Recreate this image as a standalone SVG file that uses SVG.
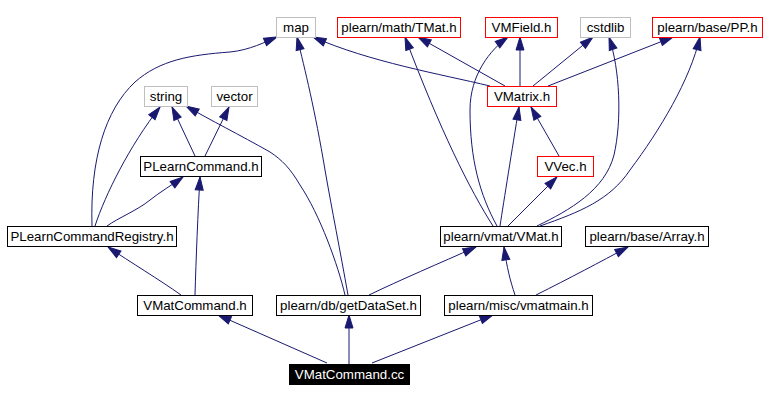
<svg xmlns="http://www.w3.org/2000/svg" width="766" height="401" viewBox="0 0 766 401">
<style>
.n rect{fill:#fff;stroke:#000;stroke-width:1}
.n.g rect{stroke:#bfbfbf}
.n.r rect{stroke:#ff0000}
.n.s rect{fill:#000}
.n text{font-family:"Liberation Sans",Arial,sans-serif;font-size:13.3px;text-anchor:middle;fill:#000}
.n.s text{fill:#fff}
#edges path{fill:none;stroke:#191970;stroke-width:1;marker-end:url(#a)}
</style>
<defs>
<marker id="a" markerWidth="14" markerHeight="9" refX="13" refY="4" orient="auto" markerUnits="userSpaceOnUse" overflow="visible">
<path d="M0,0 L13,4 L0,8 z" fill="#191970" stroke="#191970" stroke-width="1"/>
</marker>
</defs>
<rect width="766" height="401" fill="#fff"/>
<g id="edges">
<path d="M327,363 L218,315"/>
<path d="M349,364 L349,315"/>
<path d="M372,363 L493,315"/>
<path d="M181,295 C160,280 130,262 108,247"/>
<path d="M195,295 C196,260 198,210 200,177"/>
<path d="M92,226 C90,160 105,110 135,82 C160,60 190,55 230,52 C250,50 265,42 277,37"/>
<path d="M95,226 C105,195 130,145 160,107"/>
<path d="M107,226 C118,218 138,210 150,200 C160,192 172,185 183,177"/>
<path d="M195,156 L172,107"/>
<path d="M205,156 L229,107"/>
<path d="M345,295 C338,265 320,215 300,185 C290,168 282,160 270,152 C240,135 210,120 186,106"/>
<path d="M348,295 C340,250 332,210 325,170 C315,110 305,70 297,37"/>
<path d="M369,295 C400,280 440,263 476,247"/>
<path d="M515,295 C510,280 507,268 504,247"/>
<path d="M536,295 C570,278 600,262 628,247"/>
<path d="M493,226 C470,190 440,130 405,37"/>
<path d="M497,226 C480,195 470,160 470,110 C470,75 490,50 508,37"/>
<path d="M500,226 C504,200 512,150 519,107"/>
<path d="M508,226 L557,177"/>
<path d="M537,226 C570,210 605,190 614,155 C622,120 620,70 609,37"/>
<path d="M540,226 C580,212 610,200 630,170 C660,130 690,80 700,37"/>
<path d="M559,156 C550,140 540,123 531,107"/>
<path d="M490,86 C440,74 370,62 313,37"/>
<path d="M505,86 L418,37"/>
<path d="M520,86 L520,37"/>
<path d="M533,86 L593,37"/>
<path d="M548,86 L673,37"/>
</g>
<g id="map" class="n g"><rect x="276.5" y="17.5" width="39" height="20"/><text x="296" y="32">map</text></g>
<g id="tmat" class="n r"><rect x="337.5" y="17.5" width="123" height="20"/><text x="399" y="32">plearn/math/TMat.h</text></g>
<g id="vmfield" class="n r"><rect x="485.5" y="17.5" width="72" height="20"/><text x="521.5" y="32">VMField.h</text></g>
<g id="cstdlib" class="n g"><rect x="580.5" y="17.5" width="50" height="20"/><text x="605.5" y="32">cstdlib</text></g>
<g id="pp" class="n r"><rect x="652.5" y="17.5" width="110" height="20"/><text x="707.5" y="32">plearn/base/PP.h</text></g>
<g id="string" class="n g"><rect x="144.5" y="86.5" width="43" height="20"/><text x="166" y="101">string</text></g>
<g id="vector" class="n g"><rect x="211.5" y="86.5" width="46" height="20"/><text x="234.5" y="101">vector</text></g>
<g id="vmatrix" class="n r"><rect x="487.5" y="86.5" width="69" height="20"/><text x="522" y="101">VMatrix.h</text></g>
<g id="plearncommand" class="n"><rect x="140.5" y="156.5" width="121" height="20"/><text x="201" y="171">PLearnCommand.h</text></g>
<g id="vvec" class="n r"><rect x="537.5" y="156.5" width="56" height="20"/><text x="565.5" y="171">VVec.h</text></g>
<g id="registry" class="n"><rect x="7.5" y="226.5" width="169" height="20"/><text x="92" y="241">PLearnCommandRegistry.h</text></g>
<g id="vmat" class="n"><rect x="440.5" y="226.5" width="121" height="20"/><text x="501" y="241">plearn/vmat/VMat.h</text></g>
<g id="array" class="n"><rect x="585.5" y="226.5" width="123" height="20"/><text x="647" y="241">plearn/base/Array.h</text></g>
<g id="vmatcommandh" class="n"><rect x="137.5" y="295.5" width="115" height="20"/><text x="195" y="310">VMatCommand.h</text></g>
<g id="getdataset" class="n"><rect x="276.5" y="295.5" width="144" height="20"/><text x="348.5" y="310">plearn/db/getDataSet.h</text></g>
<g id="vmatmain" class="n"><rect x="444.5" y="295.5" width="148" height="20"/><text x="518.5" y="310">plearn/misc/vmatmain.h</text></g>
<g id="vmatcommandcc" class="n s"><rect x="289.5" y="364.5" width="120" height="20"/><text x="349.5" y="379">VMatCommand.cc</text></g>
</svg>
